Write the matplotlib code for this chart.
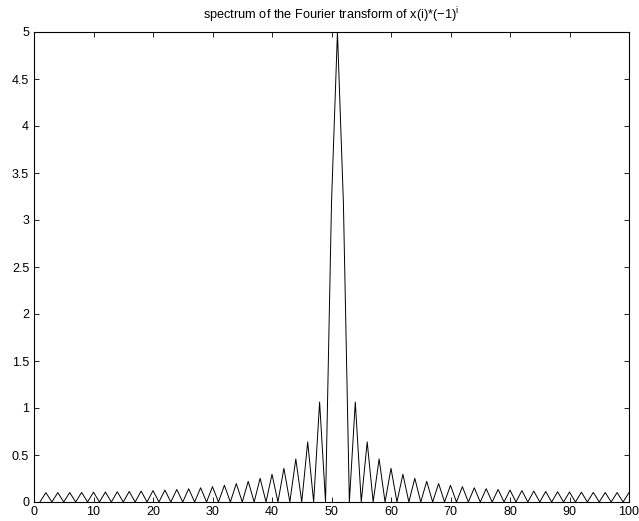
import matplotlib
matplotlib.use("Agg")
import matplotlib.pyplot as plt
from matplotlib.ticker import FuncFormatter

plt.rcParams['font.family'] = ['Liberation Sans', 'DejaVu Sans']
plt.rcParams['mathtext.fontset'] = 'custom'
plt.rcParams['mathtext.rm'] = 'Liberation Sans'
plt.rcParams['mathtext.it'] = 'Liberation Sans'

x = list(range(1, 101))
spectrum = [
    0, 0.100, 0, 0.100, 0, 0.101, 0, 0.102, 0, 0.104,
    0, 0.106, 0, 0.109, 0, 0.112, 0, 0.116, 0, 0.121,
    0, 0.127, 0, 0.133, 0, 0.141, 0, 0.151, 0, 0.163,
    0, 0.178, 0, 0.196, 0, 0.220, 0, 0.252, 0, 0.295,
    0, 0.358, 0, 0.458, 0, 0.639, 0, 1.063, 0, 3.183,
    5.0,
    3.183, 0, 1.063, 0, 0.639, 0, 0.458, 0, 0.358, 0,
    0.295, 0, 0.252, 0, 0.220, 0, 0.196, 0, 0.178, 0,
    0.163, 0, 0.151, 0, 0.141, 0, 0.133, 0, 0.127, 0,
    0.121, 0, 0.116, 0, 0.112, 0, 0.109, 0, 0.106, 0,
    0.104, 0, 0.102, 0, 0.101, 0, 0.100, 0, 0.100,
]
xticks = list(range(0, 101, 10))
yticks = [i * 0.5 for i in range(11)]

fig = plt.figure(figsize=(6.39, 5.21), dpi=100)
ax = fig.add_axes([34/639, 19/521, 595/639, 470/521])
ax.plot(x, spectrum, color='black', linewidth=0.7)
ax.set_xlim(0, 100)
ax.set_ylim(0, 5)
ax.set_xticks(xticks)
ax.set_yticks(yticks)
ax.yaxis.set_major_formatter(FuncFormatter(lambda v, p: ('%g' % v)))
ax.tick_params(direction='in', top=True, right=True, length=3.5, width=0.6,
               labelsize=9)
ax.tick_params(axis='y', pad=3.5)
ax.tick_params(axis='x', pad=3)
for s in ax.spines.values():
    s.set_linewidth(0.8)
ax.set_title(r'spectrum of the Fourier transform of x(i)*(−1)$^{\mathrm{i}}$',
             fontsize=9.2, pad=9)
fig.savefig('out.png', dpi=100)
